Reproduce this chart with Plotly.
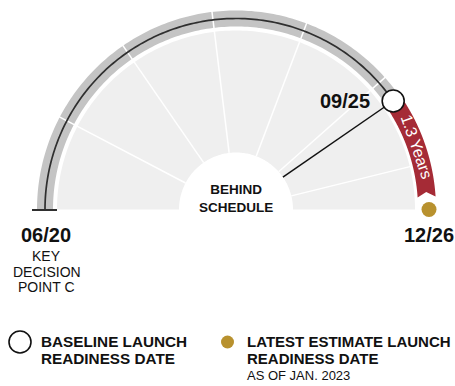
import math
import plotly.graph_objects as go

# ---- schedule data ----
start_date = "2020-06"
baseline_date = "2025-09"
estimate_date = "2026-12"
year_marks = ["2021-06", "2022-06", "2023-06", "2024-06", "2025-06", "2026-06"]
milestone_labels = ["06/20", "09/25", "12/26"]
start_caption = ["KEY", "DECISION", "POINT C"]
center_caption = ["BEHIND", "SCHEDULE"]
legend_baseline = ["BASELINE LAUNCH", "READINESS DATE"]
legend_estimate = ["LATEST ESTIMATE LAUNCH", "READINESS DATE", "AS OF JAN. 2023"]

# ---- styling ----
FILL = "#efefef"
BAND = "#c4c4c4"
RED = "#a52b36"
GOLD = "#b8912e"
INK = "#111111"
SANS = "Liberation Sans, Arial, Helvetica, sans-serif"

W, H = 455, 386
CX, CY = 236, 209.5          # gauge centre in screen pixels
R_HOLE, R_FILL = 57, 179
R_BAND_IN, R_BAND_OUT, R_MID = 183, 199, 191
BASE_MARKER, DOT_MARKER = 22, 15


def month_index(d):
    y, m = map(int, d.split("-"))
    return y * 12 + m


M0, M1 = month_index(start_date), month_index(estimate_date)


def angle(d):
    """Gauge angle (radians): start date on the left, estimate on the right."""
    return math.pi * (1 - (month_index(d) - M0) / (M1 - M0))


def pol(r, a):
    return r * math.cos(a), r * math.sin(a)


def arc(r, a0, a1, n=160):
    return [pol(r, a0 + (a1 - a0) * i / n) for i in range(n + 1)]


def to_path(pts, close=True):
    s = "M " + " L ".join(f"{x:.2f},{y:.2f}" for x, y in pts)
    return s + (" Z" if close else "")


a_start = angle(start_date)
a_base = angle(baseline_date)
a_est = angle(estimate_date)

delay_years = (month_index(estimate_date) - month_index(baseline_date)) / 12
delay_label = f"{math.floor(delay_years * 10 + 0.5) / 10:.1f} Years"

shapes = []
# light grey face of the gauge
shapes.append(dict(type="path", layer="below", line=dict(width=0), fillcolor=FILL,
                   path=to_path(arc(R_FILL, a_start, a_est) + arc(R_HOLE, a_est, a_start))))
# grey schedule band
shapes.append(dict(type="path", layer="below", line=dict(width=0), fillcolor=BAND,
                   path=to_path(arc(R_BAND_OUT, a_start, a_base) + arc(R_BAND_IN, a_base, a_start))))
# yearly dividers
for d in year_marks:
    a = angle(d)
    x0, y0 = pol(R_HOLE, a)
    x1, y1 = pol(R_BAND_OUT + 1, a)
    shapes.append(dict(type="line", layer="below", x0=x0, y0=y0, x1=x1, y1=y1,
                       line=dict(color="white", width=1.5)))
# baseline schedule line
shapes.append(dict(type="path", layer="below", line=dict(color="#2f2f2f", width=1.7),
                   path=to_path(arc(R_MID, a_start, a_base), close=False)))
# start tick
sx_in, _ = pol(R_MID - 12, a_start)
sx_out, _ = pol(R_MID + 13, a_start)
shapes.append(dict(type="line", layer="below", x0=sx_in, y0=-0.5, x1=sx_out, y1=-0.5,
                   line=dict(color="#2f2f2f", width=2)))
# delay ribbon from baseline to latest estimate
gap = (DOT_MARKER / 2 + 5) / R_MID
a_end = a_est + gap
notch = 5 / R_MID
ribbon = (arc(R_BAND_OUT + 1, a_base, a_end) + [pol(R_MID, a_end + notch)]
          + arc(R_BAND_IN - 1, a_end, a_base))
shapes.append(dict(type="path", layer="below", line=dict(width=0), fillcolor=RED,
                   path=to_path(ribbon)))
# pointer to the baseline date
px0, py0 = pol(R_HOLE, a_base)
px1, py1 = pol(R_MID - BASE_MARKER / 2, a_base)
shapes.append(dict(type="line", layer="below", x0=px0, y0=py0, x1=px1, y1=py1,
                   line=dict(color=INK, width=1.5)))

# legend swatches (paper coordinates)
shapes.append(dict(type="circle", xref="paper", yref="paper",
                   x0=9 / W, x1=31 / W, y0=1 - 353 / H, y1=1 - 331 / H,
                   line=dict(color=INK, width=1.6), fillcolor="white"))
shapes.append(dict(type="circle", xref="paper", yref="paper",
                   x0=221 / W, x1=234 / W, y0=1 - 348.5 / H, y1=1 - 335.5 / H,
                   line=dict(width=0), fillcolor=GOLD))

fig = go.Figure()
bx, by = pol(R_MID, a_base)
ex, ey = pol(R_MID + 2, a_est)
fig.add_trace(go.Scatter(x=[bx], y=[by], mode="markers", hoverinfo="skip",
                         marker=dict(size=BASE_MARKER, color="white",
                                     line=dict(color=INK, width=1.6))))
fig.add_trace(go.Scatter(x=[ex], y=[ey], mode="markers", hoverinfo="skip",
                         marker=dict(size=DOT_MARKER, color=GOLD, line=dict(width=0))))

ann = []
# milestone dates
sx, _ = pol(R_MID, a_start)
ann.append(dict(x=sx + 1, y=0, text=f"<b>{milestone_labels[0]}</b>", yshift=-25,
                font=dict(family=SANS, size=20, color=INK)))
ann.append(dict(x=bx, y=by, text=f"<b>{milestone_labels[1]}</b>", xanchor="right",
                xshift=-BASE_MARKER / 2 - 10, yshift=0,
                font=dict(family=SANS, size=20, color=INK)))
ann.append(dict(x=ex, y=0, text=f"<b>{milestone_labels[2]}</b>", yshift=-25.5,
                font=dict(family=SANS, size=20, color=INK)))
for i, line in enumerate(start_caption):
    ann.append(dict(x=sx + 1.5, y=0, text=line, yshift=-46.5 - 15.7 * i,
                    font=dict(family=SANS, size=14, color=INK)))
# centre caption, one two-line block
ann.append(dict(x=0, y=0, text="<br>".join(f"<b>{t}</b>" for t in center_caption),
                yshift=11, font=dict(family=SANS, size=13.5, color=INK)))
# delay label along the ribbon
a_mid = (a_base + a_end) / 2
lx, ly = pol(R_MID, a_mid)
ann.append(dict(x=lx, y=ly, text=delay_label, textangle=90 - math.degrees(a_mid),
                font=dict(family=SANS, size=16, color="white")))

# legend text
for i, line in enumerate(legend_baseline):
    ann.append(dict(xref="paper", yref="paper", x=39 / W, y=1 - (341.5 + 17 * i) / H,
                    xanchor="left", text=f"<b>{line}</b>",
                    font=dict(family=SANS, size=15.3, color=INK)))
for i, line in enumerate(legend_estimate):
    txt = f"<b>{line}</b>" if i < 2 else line
    ann.append(dict(xref="paper", yref="paper", x=245 / W, y=1 - (341.5 + 17 * i) / H,
                    xanchor="left", text=txt,
                    font=dict(family=SANS, size=15 if i < 2 else 13, color=INK)))

for a in ann:
    a.setdefault("showarrow", False)
    a.setdefault("xanchor", "center")
    a.setdefault("yanchor", "middle")

fig.update_layout(
    width=W, height=H,
    margin=dict(l=0, r=0, t=0, b=0),
    paper_bgcolor="white", plot_bgcolor="white",
    showlegend=False,
    shapes=shapes, annotations=ann,
    xaxis=dict(range=[-CX, W - CX], visible=False, fixedrange=True),
    yaxis=dict(range=[CY - H, CY], visible=False, fixedrange=True),
)

fig.write_html("out.html", config={"displayModeBar": False})
